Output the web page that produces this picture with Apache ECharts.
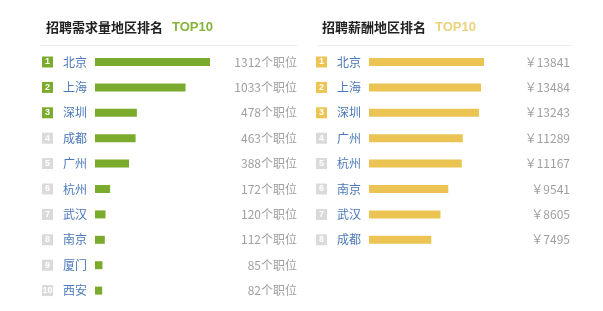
<!DOCTYPE html>
<html><head><meta charset="utf-8">
<script src="https://cdn.jsdelivr.net/npm/echarts@6/dist/echarts.min.js"></script>
<style>html,body{margin:0;padding:0;background:#fff}#c{width:603px;height:311px}</style>
</head><body><div id="c"></div>
<script>
const demandCities = ['北京','上海','深圳','成都','广州','杭州','武汉','南京','厦门','西安'];
const demandValues = [1312,1033,478,463,388,172,120,112,85,82];
const salaryCities = ['北京','上海','深圳','广州','杭州','南京','武汉','成都'];
const salaryValues = [13841,13484,13243,11289,11167,9541,8605,7495];

const GREEN = '#7bab2c', YELLOW = '#ebc453', GRAY = '#dadada';
const FONT = '"Noto Sans CJK SC", "Noto Sans", sans-serif';
const ROW = 25.4;

function badge(bg) {
  return {backgroundColor: bg, color: '#fff', width: 11, height: 11, lineHeight: 11, align: 'center',
          fontSize: 9, fontWeight: 'bold', fontFamily: 'Arial, sans-serif'};
}
function catLabel(color) {
  return {
    align: 'left', margin: 53, fontFamily: FONT,
    formatter: (v, i) => '{' + (i < 3 ? 'top' : 'rest') + '|' + (i + 1) + '}{city|' + v + '}',
    rich: {
      top: badge(color),
      rest: badge(GRAY),
      city: {color: '#4a78b8', fontSize: 12, padding: [0, 0, 0, 10], fontFamily: FONT}
    }
  };
}

const chart = echarts.init(document.getElementById('c'));
chart.setOption({
  animation: false,
  title: [
    {text: '招聘需求量地区排名{t|TOP10}', left: 41, top: 16,
     textStyle: {fontSize: 13, fontWeight: 'bold', color: '#222', fontFamily: FONT,
       rich: {t: {color: '#86b33b', fontSize: 13, fontWeight: 'bold', fontFamily: 'Arial, sans-serif', padding: [0,0,0,9]}}}},
    {text: '招聘薪酬地区排名{t|TOP10}', left: 317, top: 16,
     textStyle: {fontSize: 13, fontWeight: 'bold', color: '#222', fontFamily: FONT,
       rich: {t: {color: '#ead27f', fontSize: 13, fontWeight: 'bold', fontFamily: 'Arial, sans-serif', padding: [0,0,0,9]}}}}
  ],
  graphic: [
    {type: 'line', shape: {x1: 40, y1: 45.5, x2: 297, y2: 45.5}, style: {stroke: '#ececec', lineWidth: 1}},
    {type: 'line', shape: {x1: 318, y1: 45.5, x2: 572, y2: 45.5}, style: {stroke: '#ececec', lineWidth: 1}}
  ],
  grid: [
    {left: 95, top: 49.3, width: 202, height: ROW * 10},
    {left: 369, top: 49.3, width: 201, height: ROW * 8}
  ],
  xAxis: [
    {gridIndex: 0, type: 'value', min: 0, max: 1312 * 202 / 115, show: false},
    {gridIndex: 1, type: 'value', min: 0, max: 13841 * 201 / 115, show: false}
  ],
  yAxis: [
    {gridIndex: 0, type: 'category', inverse: true, data: demandCities,
     axisLine: {show: false}, axisTick: {show: false}, axisLabel: catLabel(GREEN)},
    {gridIndex: 0, type: 'category', inverse: true, position: 'right',
     data: demandValues.map(v => v + '个职位'),
     axisLine: {show: false}, axisTick: {show: false},
     axisLabel: {inside: true, margin: 0, color: '#a0a0a0', fontSize: 12, fontFamily: FONT}},
    {gridIndex: 1, type: 'category', inverse: true, data: salaryCities,
     axisLine: {show: false}, axisTick: {show: false}, axisLabel: catLabel(YELLOW)},
    {gridIndex: 1, type: 'category', inverse: true, position: 'right',
     data: salaryValues.map(v => '￥' + v),
     axisLine: {show: false}, axisTick: {show: false},
     axisLabel: {inside: true, margin: 0, color: '#a0a0a0', fontSize: 12, fontFamily: FONT}}
  ],
  series: [
    {type: 'bar', xAxisIndex: 0, yAxisIndex: 0, data: demandValues, barWidth: 8,
     itemStyle: {color: GREEN}, silent: true},
    {type: 'bar', xAxisIndex: 1, yAxisIndex: 2, data: salaryValues, barWidth: 8,
     itemStyle: {color: YELLOW}, silent: true}
  ]
});
</script></body></html>
